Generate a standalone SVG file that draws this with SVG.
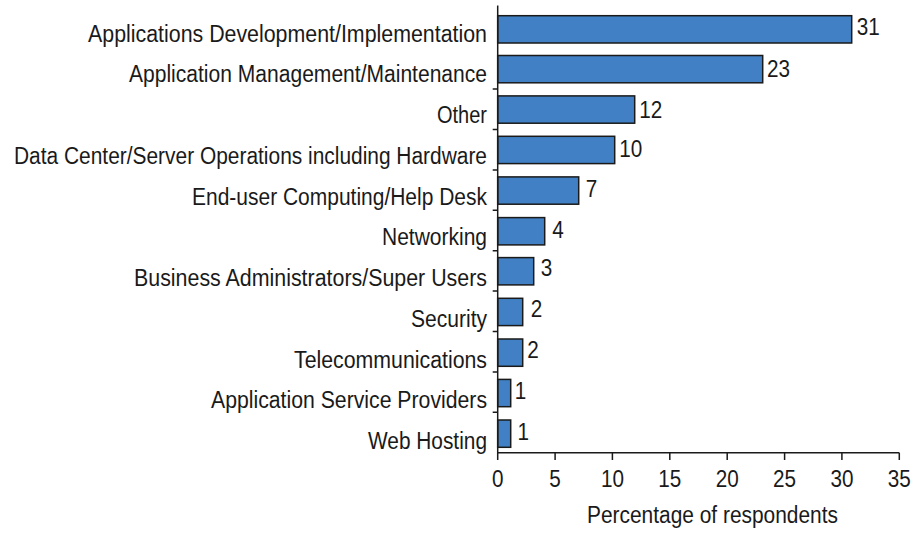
<svg xmlns="http://www.w3.org/2000/svg" width="919" height="534" viewBox="0 0 919 534">
<style>
text{font-family:"Liberation Sans","Arial",sans-serif;font-size:23px;fill:#1a1a1a}
.cat{text-anchor:end}
.tick{text-anchor:middle}
.bar{fill:#4180c4;stroke:#1a1a1a;stroke-width:1.5}
.ax{stroke:#1a1a1a;stroke-width:1.5;fill:none}
</style>
<rect width="919" height="534" fill="#ffffff"/>
<g id="bars">
<g id="row1"><rect class="bar" x="497.7" y="15.7" width="354" height="27.3"/><text class="cat" x="487" y="41.7" textLength="399" lengthAdjust="spacingAndGlyphs">Applications Development/Implementation</text><text transform="translate(856.7,35) scale(0.9,1)">31</text></g>
<g id="row2"><rect class="bar" x="497.7" y="55.5" width="265" height="27.3"/><text class="cat" x="487" y="82.4" textLength="358" lengthAdjust="spacingAndGlyphs">Application Management/Maintenance</text><text transform="translate(767,77) scale(0.9,1)">23</text></g>
<g id="row3"><rect class="bar" x="497.7" y="95.9" width="137" height="27.3"/><text class="cat" x="487" y="123.2" textLength="50" lengthAdjust="spacingAndGlyphs">Other</text><text transform="translate(639.2,118.3) scale(0.9,1)">12</text></g>
<g id="row4"><rect class="bar" x="497.7" y="136.3" width="117" height="27.3"/><text class="cat" x="487" y="163.9" textLength="473" lengthAdjust="spacingAndGlyphs">Data Center/Server Operations including Hardware</text><text transform="translate(619.2,156.7) scale(0.9,1)">10</text></g>
<g id="row5"><rect class="bar" x="497.7" y="176.9" width="81" height="27.3"/><text class="cat" x="487" y="204.6" textLength="295" lengthAdjust="spacingAndGlyphs">End-user Computing/Help Desk</text><text transform="translate(585.7,196.7) scale(0.9,1)">7</text></g>
<g id="row6"><rect class="bar" x="497.7" y="217.6" width="47" height="27.3"/><text class="cat" x="487" y="245.4" textLength="105" lengthAdjust="spacingAndGlyphs">Networking</text><text transform="translate(552.2,238.3) scale(0.9,1)">4</text></g>
<g id="row7"><rect class="bar" x="497.7" y="257.6" width="36" height="27.3"/><text class="cat" x="487" y="286.1" textLength="353" lengthAdjust="spacingAndGlyphs">Business Administrators/Super Users</text><text transform="translate(540.7,276) scale(0.9,1)">3</text></g>
<g id="row8"><rect class="bar" x="497.7" y="298.3" width="25" height="27.3"/><text class="cat" x="487" y="326.8" textLength="76" lengthAdjust="spacingAndGlyphs">Security</text><text transform="translate(530.7,316.7) scale(0.9,1)">2</text></g>
<g id="row9"><rect class="bar" x="497.7" y="339" width="25" height="27.3"/><text class="cat" x="487" y="367.5" textLength="193" lengthAdjust="spacingAndGlyphs">Telecommunications</text><text transform="translate(527.3,358.3) scale(0.9,1)">2</text></g>
<g id="row10"><rect class="bar" x="497.7" y="379.4" width="13" height="27.3"/><text class="cat" x="487" y="408.3" textLength="276" lengthAdjust="spacingAndGlyphs">Application Service Providers</text><text transform="translate(514.8,399) scale(0.9,1)">1</text></g>
<g id="row11"><rect class="bar" x="497.7" y="420" width="13" height="27.3"/><text class="cat" x="487" y="449" textLength="119" lengthAdjust="spacingAndGlyphs">Web Hosting</text><text transform="translate(517.5,440) scale(0.9,1)">1</text></g>
</g>
<g id="axes">
<path class="ax" d="M497.7 5.5V452.7H899.3"/>
<path class="ax" d="M492.7 89.1H497.7M492.7 129.5H497.7M492.7 169.9H497.7M492.7 210.3H497.7M492.7 250.7H497.7M492.7 291.1H497.7M492.7 331.5H497.7M492.7 371.9H497.7M492.7 412.3H497.7"/>
<path class="ax" d="M497.7 452.7V460M555.1 452.7V460M612.4 452.7V460M669.8 452.7V460M727.2 452.7V460M784.6 452.7V460M841.9 452.7V460M899.3 452.7V460"/>
<text class="tick" transform="translate(497.7,487) scale(0.9,1)">0</text>
<text class="tick" transform="translate(555.1,487) scale(0.9,1)">5</text>
<text class="tick" transform="translate(612.4,487) scale(0.9,1)">10</text>
<text class="tick" transform="translate(669.8,487) scale(0.9,1)">15</text>
<text class="tick" transform="translate(727.2,487) scale(0.9,1)">20</text>
<text class="tick" transform="translate(784.6,487) scale(0.9,1)">25</text>
<text class="tick" transform="translate(841.9,487) scale(0.9,1)">30</text>
<text class="tick" transform="translate(899.3,487) scale(0.9,1)">35</text>
<text x="587" y="523" textLength="251" lengthAdjust="spacingAndGlyphs">Percentage of respondents</text>
</g>
</svg>
